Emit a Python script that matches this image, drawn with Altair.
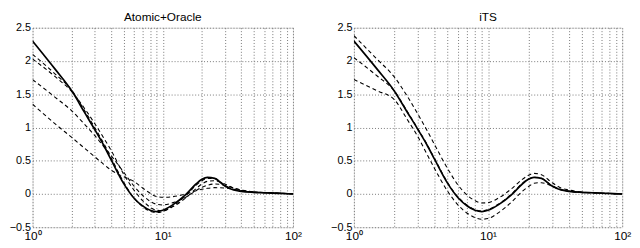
import altair as alt
import pandas as pd

# x positions (log axis, 10^0 .. 10^2)
X = [1, 1.5, 2, 2.5, 3, 3.5, 4, 5, 6, 7, 8, 9, 10, 12, 15, 18, 20, 22, 25, 30, 35, 40, 50, 60, 70, 80, 100]

# solid curve (same reference in both panels)
SOLID = [2.30, 1.87, 1.55, 1.23, 0.97, 0.74, 0.52, 0.16, -0.06, -0.18, -0.245, -0.265, -0.245, -0.16, -0.01,
         0.15, 0.22, 0.25, 0.235, 0.12, 0.06, 0.04, 0.025, 0.018, 0.012, 0.008, 0.0]

# Atomic+Oracle dashed curves
LEFT_D1 = [2.10, 1.80, 1.56, 1.26, 1.00, 0.77, 0.55, 0.18, -0.06, -0.19, -0.26, -0.28, -0.265, -0.18, -0.03,
           0.13, 0.20, 0.235, 0.235, 0.13, 0.07, 0.045, 0.03, 0.02, 0.015, 0.01, 0.0]
LEFT_D2 = [2.03, 1.76, 1.54, 1.29, 1.06, 0.85, 0.66, 0.30, 0.06, -0.10, -0.20, -0.245, -0.25, -0.19, -0.06,
           0.08, 0.15, 0.19, 0.20, 0.15, 0.09, 0.06, 0.03, 0.02, 0.015, 0.01, 0.0]
LEFT_D3 = [1.72, 1.45, 1.25, 1.05, 0.88, 0.72, 0.58, 0.33, 0.12, -0.02, -0.11, -0.155, -0.165, -0.13, -0.05,
           0.05, 0.10, 0.13, 0.15, 0.13, 0.09, 0.06, 0.03, 0.02, 0.015, 0.01, 0.005]
LEFT_D4 = [1.35, 1.05, 0.85, 0.69, 0.56, 0.45, 0.36, 0.26, 0.19, 0.09, 0.01, -0.04, -0.05, -0.04, 0.0,
           0.05, 0.07, 0.085, 0.095, 0.09, 0.07, 0.05, 0.03, 0.02, 0.015, 0.01, 0.005]

# iTS dashed curves
RIGHT_D1 = [2.38, 2.02, 1.76, 1.47, 1.20, 0.96, 0.74, 0.38, 0.13, -0.02, -0.10, -0.135, -0.13, -0.06, 0.08,
            0.22, 0.28, 0.31, 0.29, 0.17, 0.09, 0.06, 0.03, 0.02, 0.01, 0.005, 0.0]
RIGHT_D2 = [2.05, 1.77, 1.55, 1.24, 0.98, 0.75, 0.53, 0.17, -0.05, -0.17, -0.235, -0.255, -0.235, -0.15, 0.0,
            0.16, 0.225, 0.25, 0.235, 0.12, 0.065, 0.04, 0.025, 0.018, 0.012, 0.008, 0.0]
RIGHT_D3 = [1.72, 1.55, 1.42, 1.12, 0.86, 0.60, 0.38, 0.04, -0.17, -0.29, -0.355, -0.38, -0.37, -0.28, -0.12,
            0.04, 0.11, 0.16, 0.17, 0.12, 0.07, 0.045, 0.025, 0.018, 0.012, 0.008, 0.0]

TITLES = ["Atomic+Oracle", "iTS"]
X_TICKS = [1, 2, 3, 4, 5, 6, 7, 8, 9, 10, 20, 30, 40, 50, 60, 70, 80, 90, 100]
Y_TICKS = [-0.5, 0, 0.5, 1, 1.5, 2, 2.5]

FONT = "Liberation Sans"


def build_df(dashed):
    rows = []
    for i, xv in enumerate(X):
        rows.append({"x": xv, "y": SOLID[i], "series": "solid", "kind": "solid", "order": i})
    for k, s in enumerate(dashed):
        for i, xv in enumerate(X):
            rows.append({"x": xv, "y": s[i], "series": f"d{k}", "kind": "dashed", "order": i})
    return pd.DataFrame(rows)


def panel(title, dashed, width, height):
    df = build_df(dashed)
    x = alt.X(
        "x:Q",
        scale=alt.Scale(type="log", domain=[1, 100], nice=False),
        axis=alt.Axis(
            values=X_TICKS,
            labelExpr="datum.value == 1 ? '10⁰' : datum.value == 10 ? '10¹' : datum.value == 100 ? '10²' : ''",
            grid=True, gridDash=[1, 2], gridColor="#777", gridWidth=1,
            ticks=False, domain=False, title=None,
            labelFontSize=12, labelFont=FONT, labelColor="black", labelPadding=4,
            labelFlush=False, labelOverlap=False,
        ),
    )
    y = alt.Y(
        "y:Q",
        scale=alt.Scale(domain=[-0.5, 2.5], nice=False, zero=False),
        axis=alt.Axis(
            values=Y_TICKS, format="~g",
            grid=True, gridDash=[1, 2], gridColor="#777", gridWidth=1,
            ticks=False, domain=False, title=None,
            labelFontSize=11, labelFont=FONT, labelColor="black", labelPadding=2,
            labelFlush=False, labelOverlap=False,
        ),
    )
    base = alt.Chart(df)
    dashed_layer = base.transform_filter(alt.datum.kind == "dashed").mark_line(
        color="black", strokeWidth=1.1, strokeDash=[4, 3], interpolate="monotone", clip=True
    ).encode(x=x, y=y, detail="series:N", order="order:Q")
    solid_layer = base.transform_filter(alt.datum.kind == "solid").mark_line(
        color="black", strokeWidth=1.7, interpolate="monotone", clip=True
    ).encode(x=x, y=y, detail="series:N", order="order:Q")
    return alt.layer(dashed_layer, solid_layer).properties(
        width=width, height=height,
        title=alt.TitleParams(title, fontSize=12, fontWeight="normal", font=FONT, offset=3,
                              color="black", frame="group", dy=5),
    )


left = panel(TITLES[0], [LEFT_D1, LEFT_D2, LEFT_D3, LEFT_D4], 265, 203)
right = panel(TITLES[1], [RIGHT_D1, RIGHT_D2, RIGHT_D3], 273, 203)

chart = alt.hconcat(left, right, spacing=62, bounds="flush").properties(
    padding={"left": 0, "top": 0, "right": 0, "bottom": 0}
).configure_view(stroke="#444", strokeWidth=1).configure(background="white")

chart.save("out.html", embed_options={"renderer": "svg", "actions": False})
